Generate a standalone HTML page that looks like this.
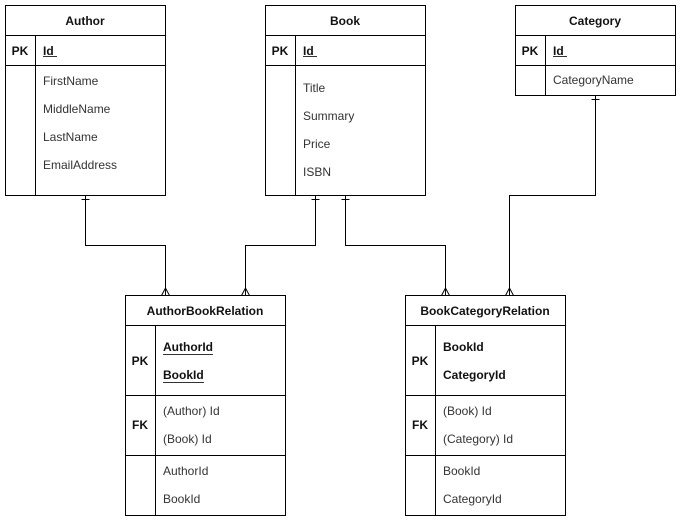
<!DOCTYPE html>
<html><head><meta charset="utf-8"><style>
html,body{margin:0;padding:0;background:#fff;}
svg{display:block;}
text{font-family:"Liberation Sans",Arial,sans-serif;font-size:12px;fill:#333;}
.h{font-weight:bold;fill:#111;}
.k{font-weight:bold;fill:#111;}
.b{font-weight:bold;fill:#111;}
</style></head><body>
<svg width="681" height="521" xmlns="http://www.w3.org/2000/svg">
<g fill="none" stroke="#000" stroke-width="1">
<rect x="5.5" y="5.5" width="160" height="190"/>
<line x1="5.5" y1="35.5" x2="165.5" y2="35.5"/>
<line x1="5.5" y1="65.5" x2="165.5" y2="65.5"/>
<line x1="35.5" y1="35.5" x2="35.5" y2="195.5"/>
<rect x="265.5" y="5.5" width="160" height="190"/>
<line x1="265.5" y1="35.5" x2="425.5" y2="35.5"/>
<line x1="265.5" y1="65.5" x2="425.5" y2="65.5"/>
<line x1="295.5" y1="35.5" x2="295.5" y2="195.5"/>
<rect x="515.5" y="5.5" width="160" height="90"/>
<line x1="515.5" y1="35.5" x2="675.5" y2="35.5"/>
<line x1="515.5" y1="65.5" x2="675.5" y2="65.5"/>
<line x1="545.5" y1="35.5" x2="545.5" y2="95.5"/>
<rect x="125.5" y="295.5" width="160" height="220"/>
<line x1="125.5" y1="325.5" x2="285.5" y2="325.5"/>
<line x1="125.5" y1="395.5" x2="285.5" y2="395.5"/>
<line x1="125.5" y1="455.5" x2="285.5" y2="455.5"/>
<line x1="155.5" y1="325.5" x2="155.5" y2="515.5"/>
<rect x="405.5" y="295.5" width="160" height="220"/>
<line x1="405.5" y1="325.5" x2="565.5" y2="325.5"/>
<line x1="405.5" y1="395.5" x2="565.5" y2="395.5"/>
<line x1="405.5" y1="455.5" x2="565.5" y2="455.5"/>
<line x1="435.5" y1="325.5" x2="435.5" y2="515.5"/>
<polyline points="85.5,195.5 85.5,245.5 165.5,245.5 165.5,295.5"/>
<polyline points="315.5,195.5 315.5,245.5 245.5,245.5 245.5,295.5"/>
<polyline points="345.5,195.5 345.5,245.5 445.5,245.5 445.5,295.5"/>
<polyline points="595.5,95.5 595.5,195.5 509.5,195.5 509.5,295.5"/>
<line x1="81.5" y1="199.5" x2="89.5" y2="199.5"/>
<line x1="311.5" y1="199.5" x2="319.5" y2="199.5"/>
<line x1="341.5" y1="199.5" x2="349.5" y2="199.5"/>
<line x1="591.5" y1="99.5" x2="599.5" y2="99.5"/>
<polyline points="161.5,295.5 165.5,288 169.5,295.5"/>
<polyline points="241.5,295.5 245.5,288 249.5,295.5"/>
<polyline points="441.5,295.5 445.5,288 449.5,295.5"/>
<polyline points="505.5,295.5 509.5,288 513.5,295.5"/>
</g>
<g stroke="#333" stroke-width="1">
<line x1="43" y1="56.5" x2="57" y2="56.5"/>
<line x1="303" y1="56.5" x2="317" y2="56.5"/>
<line x1="553" y1="56.5" x2="567" y2="56.5"/>
<line x1="163" y1="354.5" x2="213" y2="354.5"/>
<line x1="163" y1="382.5" x2="204" y2="382.5"/>
</g>
<text class="h" x="85" y="25" text-anchor="middle">Author</text>
<text class="k" x="20" y="55" text-anchor="middle">PK</text>
<text class="k" x="43" y="55">Id</text>
<text x="43" y="85">FirstName</text>
<text x="43" y="113">MiddleName</text>
<text x="43" y="141">LastName</text>
<text x="43" y="169">EmailAddress</text>
<text class="h" x="345" y="25" text-anchor="middle">Book</text>
<text class="k" x="280" y="55" text-anchor="middle">PK</text>
<text class="k" x="303" y="55">Id</text>
<text x="303" y="92">Title</text>
<text x="303" y="120">Summary</text>
<text x="303" y="148">Price</text>
<text x="303" y="176">ISBN</text>
<text class="h" x="595" y="25" text-anchor="middle">Category</text>
<text class="k" x="530" y="55" text-anchor="middle">PK</text>
<text class="k" x="553" y="55">Id</text>
<text x="553" y="84">CategoryName</text>
<text class="h" x="205" y="315" text-anchor="middle">AuthorBookRelation</text>
<text class="k" x="140" y="365" text-anchor="middle">PK</text>
<text class="b" x="163" y="351">AuthorId</text>
<text class="b" x="163" y="379">BookId</text>
<text class="k" x="140" y="429" text-anchor="middle">FK</text>
<text x="163" y="415">(Author) Id</text>
<text x="163" y="443">(Book) Id</text>
<text x="163" y="475">AuthorId</text>
<text x="163" y="503">BookId</text>
<text class="h" x="485" y="315" text-anchor="middle">BookCategoryRelation</text>
<text class="k" x="420" y="365" text-anchor="middle">PK</text>
<text class="b" x="443" y="351">BookId</text>
<text class="b" x="443" y="379">CategoryId</text>
<text class="k" x="420" y="429" text-anchor="middle">FK</text>
<text x="443" y="415">(Book) Id</text>
<text x="443" y="443">(Category) Id</text>
<text x="443" y="475">BookId</text>
<text x="443" y="503">CategoryId</text>
</svg>
</body></html>
